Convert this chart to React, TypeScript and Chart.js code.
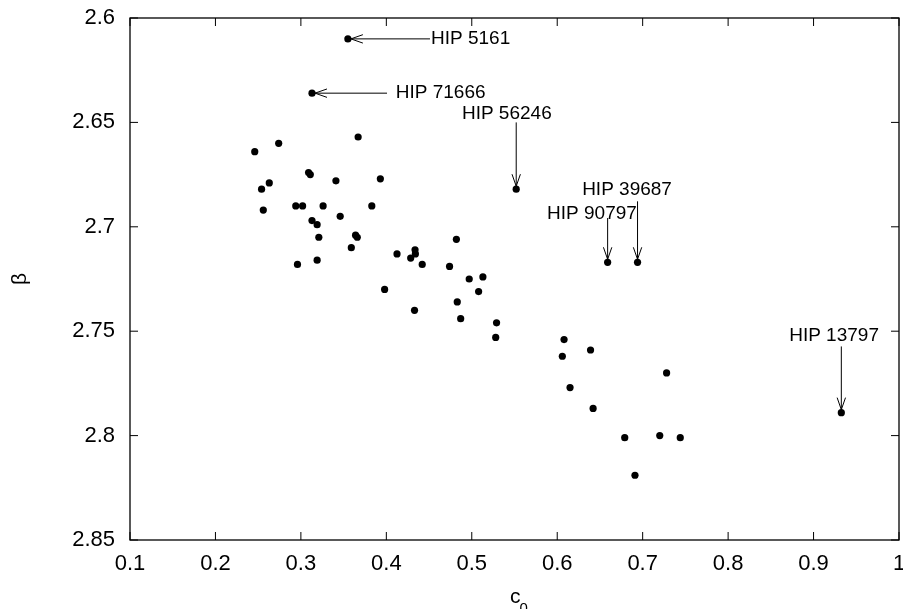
import { useEffect, useRef } from "react";
import { Chart, registerables } from "chart.js";

Chart.register(...registerables);

// c0 values of the stars
const c0Values = [
  0.355, 0.313, 0.246, 0.274, 0.367, 0.309, 0.311, 0.263, 0.254, 0.341,
  0.393, 0.256, 0.294, 0.302, 0.326, 0.383, 0.346, 0.313, 0.319, 0.321,
  0.364, 0.366, 0.359, 0.296, 0.319, 0.4125, 0.4336, 0.434, 0.4285, 0.442,
  0.398, 0.433, 0.482, 0.474, 0.497, 0.513, 0.508, 0.483, 0.487, 0.529,
  0.528, 0.552, 0.608, 0.606, 0.639, 0.728, 0.615, 0.642, 0.679, 0.72,
  0.744, 0.691, 0.659, 0.694, 0.9325,
];
// beta values of the stars
const betaValues = [
  2.61, 2.636, 2.664, 2.66, 2.657, 2.674, 2.675, 2.679, 2.682, 2.678,
  2.677, 2.692, 2.69, 2.69, 2.69, 2.69, 2.695, 2.697, 2.699, 2.705,
  2.704, 2.705, 2.71, 2.718, 2.716, 2.713, 2.711, 2.713, 2.715, 2.718,
  2.73, 2.74, 2.706, 2.719, 2.725, 2.724, 2.731, 2.736, 2.744, 2.746,
  2.753, 2.682, 2.754, 2.762, 2.759, 2.77, 2.777, 2.787, 2.801, 2.8,
  2.801, 2.819, 2.717, 2.717, 2.789,
];

const xTickValues = [0.1, 0.2, 0.3, 0.4, 0.5, 0.6, 0.7, 0.8, 0.9, 1];
const xTickLabels = ["0.1", "0.2", "0.3", "0.4", "0.5", "0.6", "0.7", "0.8", "0.9", "1"];
const yTickValues = [2.6, 2.65, 2.7, 2.75, 2.8, 2.85];
const yTickLabels = ["2.6", "2.65", "2.7", "2.75", "2.8", "2.85"];

const xTitle = "c";
const xTitleSub = "0";
const yTitle = "β";

// annotations: labels with arrows pointing at stars
const annotationNames = ["HIP 5161", "HIP 71666", "HIP 56246", "HIP 39687", "HIP 90797", "HIP 13797"];
const annotationTargetX = [0.355, 0.313, 0.552, 0.694, 0.659, 0.9325];
const annotationTargetY = [2.61, 2.636, 2.682, 2.717, 2.717, 2.789];
const annotationTailX = [0.4511, 0.4008, 0.552, 0.694, 0.659, 0.9325];
const annotationTailY = [2.61, 2.636, 2.65, 2.6878, 2.6958, 2.7573];
const annotationLabelX = [0.4523, 0.411, 0.541, 0.6817, 0.6407, 0.924];
const annotationLabelY = [2.61, 2.636, 2.6458, 2.6822, 2.6937, 2.7522];
const annotationAlign = ["left", "left", "center", "center", "center", "center"];

const FONT = '"Liberation Sans", Arial, Helvetica, sans-serif';

const framePlugin = {
  id: "frameAndNotes",
  afterDraw(chart: any) {
    const { ctx, chartArea } = chart;
    const xs = chart.scales.x;
    const ys = chart.scales.y;
    const { left, right, top, bottom } = chartArea;
    ctx.save();
    ctx.strokeStyle = "#000";
    ctx.lineWidth = 1.3;
    ctx.strokeRect(left, top, right - left, bottom - top);
    const tl = 8;
    ctx.lineWidth = 1;
    ctx.beginPath();
    xTickValues.forEach((v) => {
      const p = xs.getPixelForValue(v);
      ctx.moveTo(p, bottom);
      ctx.lineTo(p, bottom - tl);
      ctx.moveTo(p, top);
      ctx.lineTo(p, top + tl);
    });
    yTickValues.forEach((v) => {
      const p = ys.getPixelForValue(v);
      ctx.moveTo(left, p);
      ctx.lineTo(left + tl, p);
      ctx.moveTo(right, p);
      ctx.lineTo(right - tl, p);
    });
    ctx.stroke();

    // annotations
    ctx.fillStyle = "#000";
    ctx.font = `19px ${FONT}`;
    ctx.textBaseline = "middle";
    annotationNames.forEach((name, i) => {
      const tx = xs.getPixelForValue(annotationTargetX[i]);
      const ty = ys.getPixelForValue(annotationTargetY[i]);
      const sx = xs.getPixelForValue(annotationTailX[i]);
      const sy = ys.getPixelForValue(annotationTailY[i]);
      const dx = sx - tx;
      const dy = sy - ty;
      const len = Math.hypot(dx, dy) || 1;
      const ux = dx / len;
      const uy = dy / len;
      const hx = tx + ux * 3;
      const hy = ty + uy * 3;
      ctx.lineWidth = 1;
      ctx.beginPath();
      ctx.moveTo(sx, sy);
      ctx.lineTo(hx, hy);
      const hl = 12;
      const hw = 4.2;
      ctx.moveTo(hx + ux * hl - uy * hw, hy + uy * hl + ux * hw);
      ctx.lineTo(hx, hy);
      ctx.lineTo(hx + ux * hl + uy * hw, hy + uy * hl - ux * hw);
      ctx.stroke();
      ctx.textAlign = annotationAlign[i] as CanvasTextAlign;
      ctx.fillText(name, xs.getPixelForValue(annotationLabelX[i]), ys.getPixelForValue(annotationLabelY[i]));
    });

    // x-axis title with subscript
    const cx = (left + right) / 2;
    ctx.textAlign = "left";
    ctx.textBaseline = "alphabetic";
    ctx.font = `21px ${FONT}`;
    ctx.fillText(xTitle, cx - 4.5, bottom + 63);
    const cw = ctx.measureText(xTitle).width;
    ctx.font = `15px ${FONT}`;
    ctx.fillText(xTitleSub, cx - 4.5 + cw - 1, bottom + 73);
    ctx.restore();
  },
};

export default function App() {
  const ref = useRef<HTMLCanvasElement | null>(null);
  useEffect(() => {
    if (!ref.current) return;
    const data = c0Values.map((x, i) => ({ x, y: betaValues[i] }));
    const chart = new Chart(ref.current, {
      type: "scatter",
      data: {
        datasets: [
          {
            data,
            backgroundColor: "#000",
            borderColor: "#000",
            borderWidth: 0,
            pointRadius: 3.6,
            pointHoverRadius: 3.6,
          },
        ],
      },
      plugins: [framePlugin],
      options: {
        responsive: false,
        animation: false,
        events: [],
        layout: { padding: { top: 18, right: 4, left: 0, bottom: 0 } },
        plugins: { legend: { display: false }, tooltip: { enabled: false } },
        scales: {
          x: {
            type: "linear",
            min: 0.1,
            max: 1,
            grid: { display: false, drawTicks: false },
            border: { display: false },
            afterBuildTicks: (s: any) => {
              s.ticks = xTickValues.map((v) => ({ value: v }));
            },
            afterFit: (s: any) => {
              s.height = 69;
              s.paddingLeft = 0;
              s.paddingRight = 0;
            },
            ticks: {
              autoSkip: false,
              maxRotation: 0,
              padding: 11,
              color: "#000",
              font: { family: FONT, size: 22 },
              callback: (_v: any, i: number) => xTickLabels[i],
            },
          },
          y: {
            type: "linear",
            min: 2.6,
            max: 2.85,
            reverse: true,
            grid: { display: false, drawTicks: false },
            border: { display: false },
            afterBuildTicks: (s: any) => {
              s.ticks = yTickValues.map((v) => ({ value: v }));
            },
            afterFit: (s: any) => {
              s.width = 130;
              s.paddingTop = 0;
              s.paddingBottom = 0;
            },
            title: {
              display: true,
              text: yTitle,
              color: "#000",
              font: { family: FONT, size: 21 },
              padding: { top: 8, bottom: 0 },
            },
            ticks: {
              autoSkip: false,
              padding: 15,
              color: "#000",
              font: { family: FONT, size: 22 },
              callback: (_v: any, i: number) => yTickLabels[i],
            },
          },
        },
      },
    });
    return () => chart.destroy();
  }, []);
  return (
    <div style={{ position: "absolute", left: 0, top: 0, width: 903, height: 609, background: "#fff" }}>
      <canvas ref={ref} width={903} height={609} style={{ display: "block" }} />
    </div>
  );
}
